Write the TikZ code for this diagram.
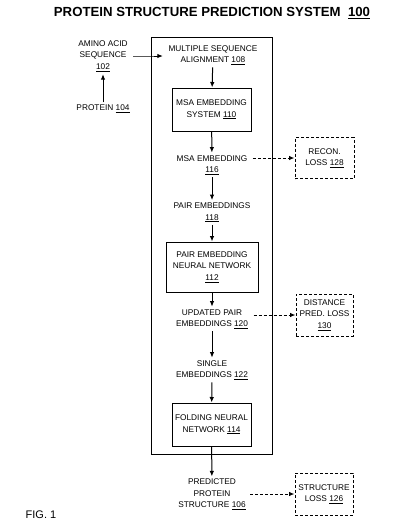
\documentclass[tikz,border=0pt]{standalone}
\usepackage{fontspec}
\setmainfont{Liberation Sans}
\usetikzlibrary{arrows.meta}
\tikzset{
  lbl/.style={align=center, inner sep=2.5pt, font=\fontsize{8.3}{11.5}\selectfont},
  blk/.style={lbl, draw, line width=1pt},
  lossbox/.style={lbl, draw, line width=1pt, dash pattern=on 3pt off 2pt},
  arr/.style={line width=1pt, -{Latex[length=5.5pt,width=4.5pt]}},
  darr/.style={line width=1pt, dash pattern=on 3pt off 2pt, -{Latex[length=5.5pt,width=4.5pt]}}
}
\newcommand{\ul}[1]{\underline{#1}}
\begin{document}
\begin{tikzpicture}[x=1pt,y=-1pt]
\useasboundingbox (0,0) rectangle (400,528);
\node[font=\fontsize{13.2}{15}\selectfont\bfseries] (title) at (212,13) {PROTEIN STRUCTURE PREDICTION SYSTEM\ \ \ul{100}};
\node[draw, line width=1pt, minimum width=121pt, minimum height=417pt, inner sep=0pt] (sys) at (211.5,245.5) {};
\node[lbl] (aas) at (103,56) {AMINO ACID\\SEQUENCE\\\ul{102}};
\node[lbl] (prot) at (103,109) {PROTEIN \ul{104}};
\node[lbl] (msa) at (213,55) {MULTIPLE SEQUENCE\\ALIGNMENT \ul{108}};
\node[blk, minimum width=79pt, minimum height=43pt] (mes) at (211.5,109.5) {MSA EMBEDDING\\SYSTEM \ul{110}};
\node[lbl] (msae) at (212,165) {MSA EMBEDDING\\\ul{116}};
\node[lossbox, minimum width=59pt, minimum height=41pt] (recon) at (324.5,158) {RECON.\\LOSS \ul{128}};
\node[lbl] (pair) at (212,212.5) {PAIR EMBEDDINGS\\\ul{118}};
\node[blk, minimum width=92pt, minimum height=50pt] (pen) at (212,267) {PAIR EMBEDDING\\NEURAL NETWORK\\\ul{112}};
\node[lbl] (upe) at (212,319) {UPDATED PAIR\\EMBEDDINGS \ul{120}};
\node[lossbox, minimum width=57pt, minimum height=42pt] (dist) at (324.5,315) {DISTANCE\\PRED. LOSS\\\ul{130}};
\node[lbl] (single) at (212,370) {SINGLE\\EMBEDDINGS \ul{122}};
\node[blk, minimum width=79pt, minimum height=43pt] (fnn) at (211.5,424.5) {FOLDING NEURAL\\NETWORK \ul{114}};
\node[lbl] (pps) at (212,494.5) {PREDICTED\\PROTEIN\\STRUCTURE \ul{106}};
\node[lossbox, minimum width=58pt, minimum height=42pt] (sl) at (324,494) {STRUCTURE\\LOSS \ul{126}};
\node[font=\fontsize{11}{13}\selectfont] (fig) at (41,515) {FIG. 1};
\draw[arr] (prot) -- (aas);
\draw[arr] ([xshift=3pt]aas.east) -- (aas.east -| sys.west) -- ([xshift=-3pt]aas.east -| msa.west);
\draw[arr] (msa) -- (mes);
\draw[arr] (mes) -- (msae);
\draw[arr] (msae) -- (pair);
\draw[arr] (pair) -- (pen);
\draw[arr] (pen) -- (upe);
\draw[arr] (upe) -- (single);
\draw[arr] (single) -- (fnn);
\draw[arr] (fnn) -- (pps);
\draw[darr] ([xshift=3pt]msae.east |- recon) -- (recon.west);
\draw[darr] ([xshift=3pt]upe.east |- dist) -- (dist.west);
\draw[darr] ([xshift=2pt]pps.east |- sl) -- (sl.west);
\end{tikzpicture}
\end{document}
